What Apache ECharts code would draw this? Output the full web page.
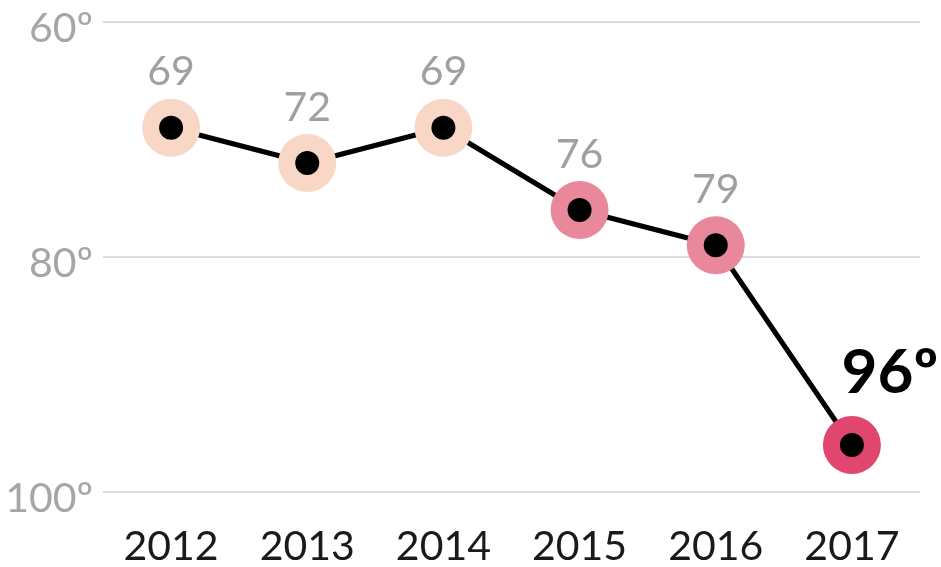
<!DOCTYPE html>
<html>
<head>
<meta charset="utf-8">
<script src="https://cdn.jsdelivr.net/npm/echarts@6/dist/echarts.min.js"></script>
<style>
  html, body { margin: 0; padding: 0; background: #fff; }
  #chart { width: 941px; height: 567px; }
</style>
</head>
<body>
<div id="chart"></div>
<script>
// Datos: posición en el ranking por año
const years = ["2012", "2013", "2014", "2015", "2016", "2017"];
const ranks = [69, 72, 69, 76, 79, 96];
const yTicks = [60, 80, 100];

// Colores del círculo exterior según el año
const ringColors = ["#f9d7c6", "#f9d7c6", "#f9d7c6", "#e9889b", "#e9889b", "#e0466e"];

const chart = echarts.init(document.getElementById("chart"));
const font = "Lato, 'Noto Sans', sans-serif";

const option = {
  backgroundColor: "#ffffff",
  animation: false,
  grid: { left: 103, right: 21, top: 22, bottom: 75 },
  xAxis: {
    type: "category",
    data: years,
    boundaryGap: true,
    axisLine: { show: false },
    axisTick: { show: false },
    axisLabel: { color: "#1a1a1a", fontSize: 41, fontFamily: font, margin: 34 }
  },
  yAxis: {
    type: "value",
    inverse: true,
    min: yTicks[0],
    max: yTicks[yTicks.length - 1],
    interval: 20,
    axisLine: { show: false },
    axisTick: { show: false },
    axisLabel: {
      color: "#a6a6a6",
      fontSize: 41,
      fontFamily: font,
      margin: 10,
      verticalAlign: "top",
      lineHeight: 14,
      formatter: "{value}º"
    },
    splitLine: { lineStyle: { color: "#dcdde3", width: 2 } }
  },
  series: [
    {
      type: "line",
      data: ranks.map((v, i) => {
        const item = { value: v, itemStyle: { color: ringColors[i] } };
        if (i === ranks.length - 1) {
          item.label = {
            formatter: "{c}º",
            color: "#000",
            fontSize: 62,
            fontWeight: "bold",
            distance: 6,
            offset: [38, -6]
          };
        }
        return item;
      }),
      symbol: "circle",
      symbolSize: 58,
      showAllSymbol: true,
      lineStyle: { color: "#000", width: 5 },
      itemStyle: { borderWidth: 0, opacity: 1 },
      label: {
        show: true,
        position: "top",
        distance: 6,
        color: "#a0a0a0",
        fontSize: 41,
        fontFamily: font
      },
      z: 2
    },
    {
      // punto negro central
      type: "scatter",
      data: ranks,
      symbol: "circle",
      symbolSize: 24,
      itemStyle: { color: "#000", opacity: 1 },
      silent: true,
      z: 3
    }
  ]
};

chart.setOption(option);
window.addEventListener("resize", () => chart.resize());
</script>
</body>
</html>
